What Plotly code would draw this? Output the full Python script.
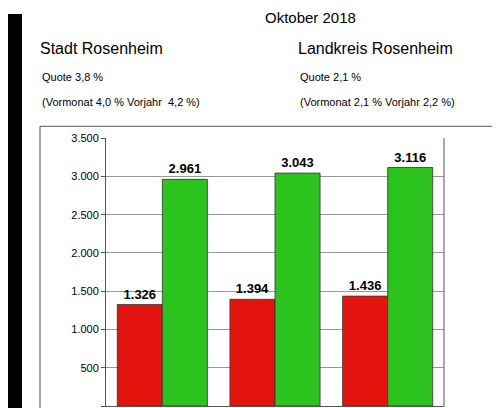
import plotly.graph_objects as go

cats = ["A", "B", "C"]
red_vals = [1326, 1394, 1436]
green_vals = [2961, 3043, 3116]
red_labels = ["1.326", "1.394", "1.436"]
green_labels = ["2.961", "3.043", "3.116"]
tick_vals = [0, 500, 1000, 1500, 2000, 2500, 3000, 3500]
tick_text = ["0", "500", "1.000", "1.500", "2.000", "2.500", "3.000", "3.500"]

OFF = 8
W, H = 500 - OFF, 408 - OFF
def px(x): return (x - OFF) / W
def py(y): return 1 - (y - OFF) / H

fig = go.Figure()
fig.add_bar(x=cats, y=red_vals, text=red_labels, textposition="outside",
            marker=dict(color="#e3140e", line=dict(color="#333", width=0.8)),
            textfont=dict(family="Liberation Sans", size=13, color="black"), cliponaxis=False)
fig.add_bar(x=cats, y=green_vals, text=green_labels, textposition="outside",
            marker=dict(color="#2dc31e", line=dict(color="#333", width=0.8)),
            textfont=dict(family="Liberation Sans", size=13, color="black"), cliponaxis=False)

fig.update_layout(
    width=W, height=H, margin=dict(l=0, r=0, t=0, b=0),
    paper_bgcolor="white", plot_bgcolor="white", showlegend=False,
    barmode="group", bargap=0.2, bargroupgap=0,
    font=dict(family="Liberation Sans", color="black"),
    xaxis=dict(domain=[px(106), px(444)], showticklabels=False, showline=True,
               linecolor="#555"),
    yaxis=dict(domain=[py(406), py(134)], range=[0, 3500], tickvals=tick_vals,
               ticktext=tick_text, showgrid=True, gridcolor="#999", gridwidth=1,
               showline=True, linecolor="#555", ticks="outside", ticklen=4,
               tickcolor="#555", tickfont=dict(size=11)),
)
fig.update_traces(textfont_weight="bold")

shapes = [
    dict(type="rect", xref="paper", yref="paper", x0=0, x1=px(22), y0=0, y1=1,
         fillcolor="black", line=dict(width=0)),
    dict(type="rect", xref="paper", yref="paper", x0=px(40), x1=px(495), y0=-0.05, y1=py(122),
         line=dict(color="#555", width=1)),
    dict(type="line", xref="paper", yref="paper", x0=px(444), x1=px(444), y0=py(406), y1=py(134),
         line=dict(color="#555", width=1)),
]
fig.update_layout(shapes=shapes)

def ann(text, x, y, size, anchor="left"):
    fig.add_annotation(text=text, x=px(x), y=py(y),
                       xref="paper", yref="paper", showarrow=False, xanchor=anchor,
                       yanchor="middle", font=dict(size=size, color="black"))

ann("Oktober 2018", 310, 12, 15, "center")
ann("Stadt Rosenheim", 38, 43, 16)
ann("Landkreis Rosenheim", 296, 43, 16)
ann("Quote 3,8 %", 40, 72, 11)
ann("Quote 2,1 %", 298, 72, 11)
ann("(Vormonat 4,0 % Vorjahr  4,2 %)", 40, 97, 11)
ann("(Vormonat 2,1 % Vorjahr 2,2 %)", 298, 97, 11)

fig.write_html("out.html")
